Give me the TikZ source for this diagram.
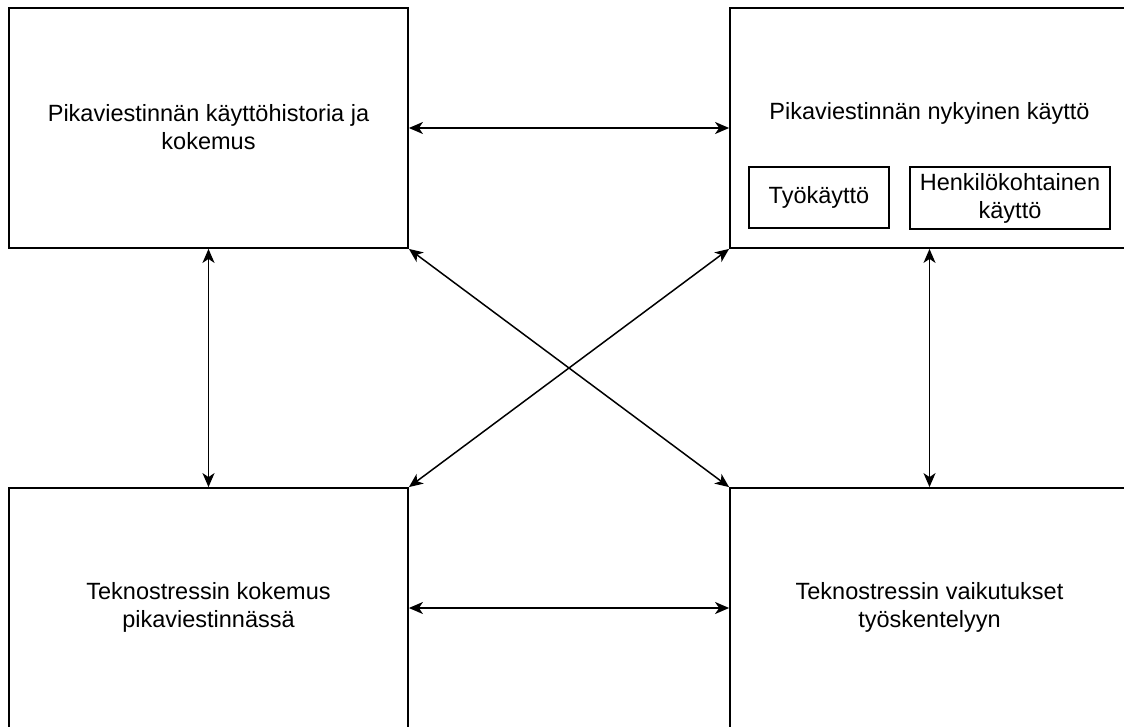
\documentclass[tikz,border=0pt]{standalone}
\usepackage{fontspec}
\setmainfont{Liberation Sans}
\usetikzlibrary{arrows.meta}
\begin{document}
\begin{tikzpicture}[x=1pt,y=-1pt,
  bigbox/.style={draw=black,line width=1.8pt,minimum width=399pt,minimum height=240pt,inner sep=0pt},
  smallbox/.style={draw=black,line width=1.4pt,inner sep=0pt,align=center},
  lbl/.style={align=center,font=\fontsize{23.5}{28}\selectfont,inner sep=0pt},
  conn/.style={line width=1.5pt,{Stealth[length=14pt,width=12pt,inset=4pt]}-{Stealth[length=14pt,width=12pt,inset=4pt]}}]
\useasboundingbox (0,0) rectangle (1124,727);
\fill[white] (0,0) rectangle (1124,727);
\node[bigbox] (tl) at (208.5,128) {};
\node[bigbox] (tr) at (929.5,128) {};
\node[bigbox] (bl) at (208.5,608) {};
\node[bigbox] (br) at (929.5,608) {};
\node[lbl] (tltext) at (208.5,127) {Pikaviestinnän käyttöhistoria ja\\kokemus};
\node[lbl] (trtext) at (929.5,113) {Pikaviestinnän nykyinen käyttö};
\node[lbl] (bltext) at (208.5,607) {Teknostressin kokemus\\pikaviestinnässä};
\node[lbl] (brtext) at (929.5,607) {Teknostressin vaikutukset\\työskentelyyn};
\node[smallbox,lbl,draw,line width=1.4pt,minimum width=140pt,minimum height=61pt] (tyo) at (819,197.5) {Työkäyttö};
\node[smallbox,lbl,draw,line width=1.4pt,minimum width=200pt,minimum height=62pt] (henk) at (1010,198) {Henkilökohtainen\\käyttö};
\draw[conn] (tl.east) -- (tr.west);
\draw[conn] (bl.east) -- (br.west);
\draw[conn] (tl.south) -- (bl.north);
\draw[conn] (tr.south) -- (br.north);
\draw[conn] (tl.south east) -- (br.north west);
\draw[conn] (tr.south west) -- (bl.north east);
\end{tikzpicture}
\end{document}
